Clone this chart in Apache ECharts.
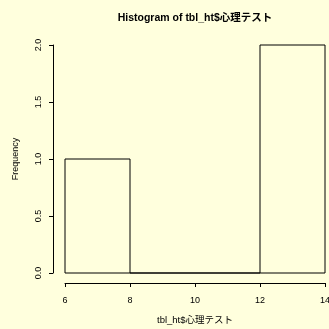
<!DOCTYPE html>
<html><head><meta charset="utf-8">
<script src="https://cdn.jsdelivr.net/npm/echarts@6/dist/echarts.min.js"></script>
<style>html,body{margin:0;padding:0;background:#ffffdd}#c{width:329px;height:329px}</style>
</head><body><div id="c"></div>
<script>
const binStarts = [6, 8, 10, 12];
const binEnds = [8, 10, 12, 14];
const counts = [1, 0, 0, 2];
const xTicks = [6, 8, 10, 12, 14];
const yTicks = [0.0, 0.5, 1.0, 1.5, 2.0];
const titleText = 'Histogram of tbl_ht$心理テスト';
const xName = 'tbl_ht$心理テスト';
const yName = 'Frequency';

const FONT = '"Liberation Sans", Arial, "Noto Sans CJK JP", sans-serif';
const chart = echarts.init(document.getElementById('c'), null, {renderer: 'canvas'});
const data = binStarts.map((s, i) => [s, binEnds[i], counts[i]]);
chart.setOption({
  backgroundColor: '#ffffdd',
  animation: false,
  title: {
    text: titleText, left: 190, top: 8, textAlign: 'center',
    textStyle: {fontFamily: FONT, fontSize: 10.5, fontWeight: 'bold', color: '#000'}
  },
  grid: {left: 65, width: 260, top: 45, height: 228, containLabel: false, outerBoundsMode: 'none'},
  xAxis: {
    type: 'value', min: xTicks[0], max: xTicks[xTicks.length - 1], interval: 2, offset: 10,
    name: xName, nameLocation: 'middle', nameGap: 33,
    nameTextStyle: {fontFamily: FONT, fontSize: 9.5, color: '#000'},
    axisLine: {show: true, onZero: false, lineStyle: {color: '#000', width: 1}},
    axisTick: {show: true, length: 4, lineStyle: {color: '#000'}},
    axisLabel: {fontFamily: FONT, fontSize: 9, color: '#000', margin: 13, hideOverlap: false,
      formatter: v => xTicks.includes(v) ? String(v) : ''},
    splitLine: {show: false}
  },
  yAxis: {
    type: 'value', min: yTicks[0], max: yTicks[yTicks.length - 1], interval: 0.5, offset: 12,
    name: yName, nameLocation: 'middle', nameGap: 33,
    nameTextStyle: {fontFamily: FONT, fontSize: 9, color: '#000'},
    axisLine: {show: true, onZero: false, lineStyle: {color: '#000', width: 1}},
    axisTick: {show: true, length: 4, lineStyle: {color: '#000'}},
    axisLabel: {fontFamily: FONT, fontSize: 9, color: '#000', margin: 10, rotate: 90,
      formatter: v => v.toFixed(1)},
    splitLine: {show: false}
  },
  series: [{
    type: 'custom',
    data: data,
    encode: {x: [0, 1], y: 2},
    renderItem: function (params, api) {
      const p0 = api.coord([api.value(0), api.value(2)]);
      const p1 = api.coord([api.value(1), 0]);
      return {
        type: 'rect',
        shape: {x: p0[0], y: p0[1], width: p1[0] - p0[0], height: p1[1] - p0[1]},
        style: {fill: 'none', stroke: '#000', lineWidth: 1}
      };
    }
  }]
});
</script></body></html>
